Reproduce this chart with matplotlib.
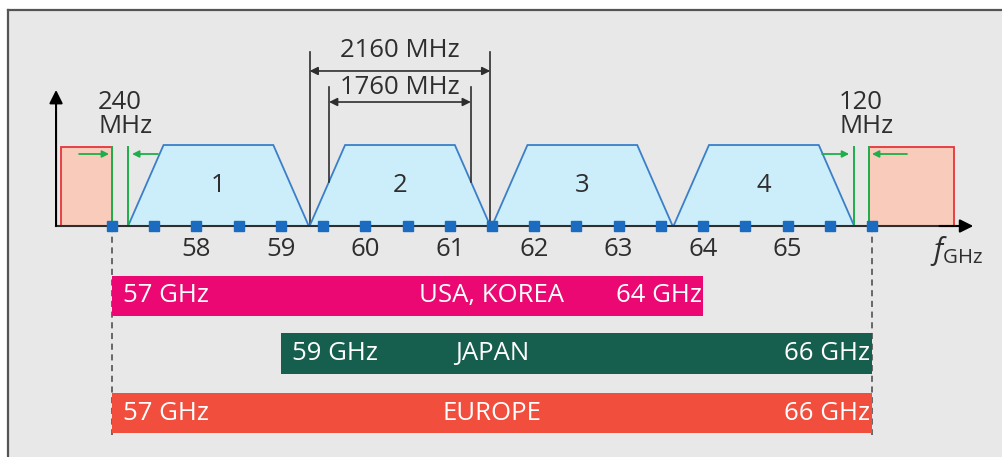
import numpy as np
import matplotlib
matplotlib.use("Agg")
import matplotlib.pyplot as plt
from matplotlib.patches import Polygon, Rectangle

plt.rcParams['font.family'] = ['Open Sans', 'DejaVu Sans']
plt.rcParams['mathtext.fontset'] = 'custom'
plt.rcParams['mathtext.rm'] = 'Open Sans'
plt.rcParams['mathtext.it'] = 'Open Sans:italic'

# channel plan (GHz)
channels = [1, 2, 3, 4]
ch_centers = [58.26, 60.41, 62.57, 64.72]
ch_base = 2.14      # 2160 MHz channel spacing
ch_top = 1.30
ch_occupied = 1.68  # 1760 MHz occupied band

tick_vals = [58, 59, 60, 61, 62, 63, 64, 65]
grid_marks = np.arange(57.0, 66.01, 0.5)

# guard bands / neighbouring services
guard_left = (56.40, 57.00)
guard_right = (65.96, 66.97)

regions = ['USA, KOREA', 'JAPAN', 'EUROPE']
reg_start = [57, 59, 57]
reg_end = [64, 66, 66]
reg_colors = ['#EC0872', '#165F4E', '#F24E3E']

dark = '#2E2E2E'
blue_edge = '#3A7FC8'
blue_fill = '#CCEEFA'
green = '#1FAE4B'
fs = 18.5

fig = plt.figure(figsize=(10.03, 4.57), dpi=100)
fig.patch.set_facecolor('white')
ax = fig.add_axes([8 / 1003, 0, 1 - 8 / 1003, 1 - 10 / 457])
ax.set_facecolor('#E8E8E8')
ax.set_xlim(55.768, 67.552)
ax.set_ylim(-2.852, 2.667)
ax.set_xticks([])
ax.set_yticks([])
for s in ['right', 'bottom']:
    ax.spines[s].set_visible(False)
for s in ['top', 'left']:
    ax.spines[s].set_color('#555555')
    ax.spines[s].set_linewidth(1.6)

# neighbouring (red) blocks
for lo, hi in [guard_left, guard_right]:
    ax.add_patch(Rectangle((lo, 0), hi - lo, 0.975, facecolor='#F9CBBA',
                           edgecolor='#E8343A', lw=1.3, zorder=2))

# channels
outlines = []
for n, c in zip(channels, ch_centers):
    xs = [c - ch_base / 2, c - ch_top / 2, c + ch_top / 2, c + ch_base / 2]
    ys = [0, 1, 1, 0]
    outlines.append((xs, ys))
    ax.add_patch(Polygon(list(zip(xs, ys)), closed=False, facecolor=blue_fill,
                         edgecolor=blue_edge, lw=1.3, zorder=3))
    ax.text(c, 0.5, str(n), ha='center', va='center', fontsize=fs, color=dark, zorder=4)

# guard band lines and arrows
g_lines = [guard_left[1], ch_centers[0] - ch_base / 2,
           ch_centers[-1] + ch_base / 2, guard_right[0]]
for gx in g_lines:
    ax.plot([gx, gx], [0, 0.975], color=green, lw=1.4, zorder=4)
green_arrows = [(56.61, 56.965), (57.545, 57.237), (65.41, 65.73), (66.415, 66.0)]
for a, b in green_arrows:
    ax.annotate('', xy=(b, 0.889), xytext=(a, 0.889),
                arrowprops=dict(arrowstyle='-|>', color=green, lw=1.3,
                                mutation_scale=10, shrinkA=0, shrinkB=0), zorder=5)
ax.text(56.834, 1.38, '240\nMHz', ha='left', va='center', fontsize=fs,
        color=dark, linespacing=0.95)
ax.text(65.61, 1.38, '120\nMHz', ha='left', va='center', fontsize=fs,
        color=dark, linespacing=0.95)

# axes arrows
x0 = 56.337
ax.plot([x0, 67.0], [0, 0], color=dark, lw=1.5, zorder=5)
ax.annotate('', xy=(67.2, 0), xytext=(66.8, 0),
            arrowprops=dict(arrowstyle='-|>', color='black', lw=1.5,
                            mutation_scale=20, shrinkA=0, shrinkB=0), zorder=6)
ax.annotate('', xy=(x0, 1.68), xytext=(x0, 0),
            arrowprops=dict(arrowstyle='-|>', color='black', lw=1.5,
                            mutation_scale=20, shrinkA=0, shrinkB=0), zorder=6)
ax.plot(grid_marks, np.zeros_like(grid_marks), 's', color='#1B6BC0',
        ms=6.5, zorder=7, clip_on=False)
for t in tick_vals:
    ax.text(t, -0.29, str(t), ha='center', va='center', fontsize=fs, color=dark)
ax.text(67.0, -0.31, r'$\mathit{f}_{\mathrm{GHz}}$', ha='center', va='center',
        fontsize=21, color=dark)

# 2160 / 1760 MHz dimension lines on channel 2
c2 = ch_centers[1]
for gx in [c2 - ch_base / 2, c2 + ch_base / 2]:
    ax.plot([gx, gx], [0, 2.148], color=dark, lw=1.2, zorder=2)
ax.annotate('', xy=(c2 + ch_base / 2, 1.914), xytext=(c2 - ch_base / 2, 1.914),
            arrowprops=dict(arrowstyle='<|-|>', color=dark, lw=1.2,
                            mutation_scale=12, shrinkA=0, shrinkB=0))
ax.text(c2, 2.17, '2160 MHz', ha='center', va='center', fontsize=fs, color=dark)
xs2, ys2 = outlines[1]
for gx in [c2 - ch_occupied / 2, c2 + ch_occupied / 2]:
    ybot = np.interp(gx, xs2, ys2)
    ax.plot([gx, gx], [ybot, 1.716], color=dark, lw=1.2, zorder=4)
ax.annotate('', xy=(c2 + ch_occupied / 2, 1.531), xytext=(c2 - ch_occupied / 2, 1.531),
            arrowprops=dict(arrowstyle='<|-|>', color=dark, lw=1.2,
                            mutation_scale=12, shrinkA=0, shrinkB=0))
ax.text(c2, 1.71, '1760 MHz', ha='center', va='center', fontsize=fs, color=dark)

# regional allocations
for gx in [57, 66]:
    ax.plot([gx, gx], [0, -2.58], color='#444444', lw=1.1, ls=(0, (4, 3)), zorder=1)
rows = [-0.864, -1.574, -2.309]
ax.barh(rows, np.subtract(reg_end, reg_start), left=reg_start, height=0.5,
        color=reg_colors, zorder=3)
for y, name, s, e in zip(rows, regions, reg_start, reg_end):
    ax.text(s + 0.13, y, f'{s} GHz', ha='left', va='center', fontsize=fs,
            color='white', zorder=4)
    ax.text(e - 0.02, y, f'{e} GHz', ha='right', va='center', fontsize=fs,
            color='white', zorder=4)
    ax.text(61.5, y, name, ha='center', va='center', fontsize=fs,
            color='white', zorder=4)

fig.savefig('out.png', dpi=100)
